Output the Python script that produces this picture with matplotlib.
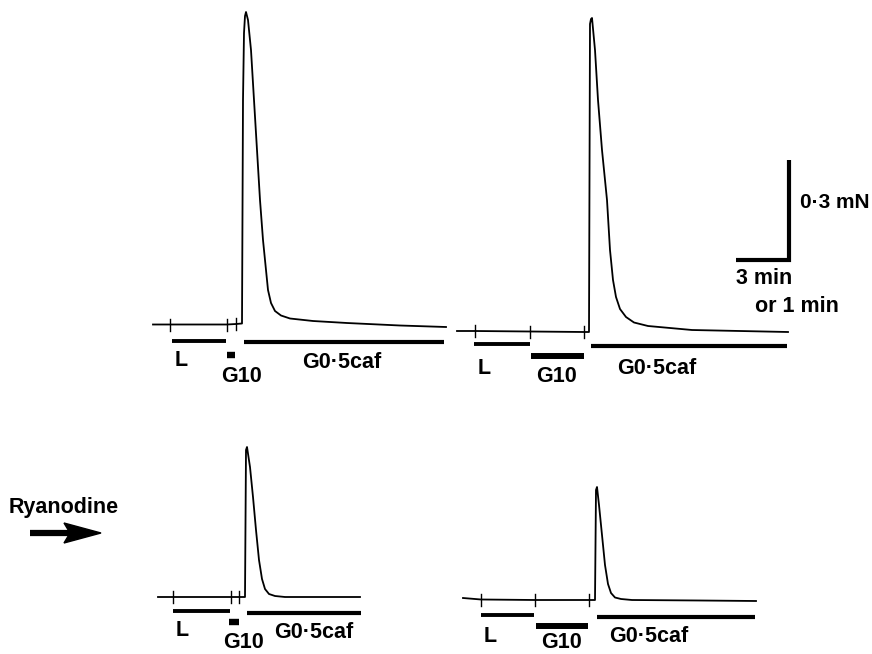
import matplotlib
matplotlib.use("Agg")
import matplotlib.pyplot as plt
from matplotlib.patches import Polygon

# Traces, in page pixels (x right, y down).
# Top left: short G10 exposure
TL_X = [153, 170, 227, 236, 242, 243, 244, 245, 246, 248, 251, 254, 257, 260,
        263, 266, 268, 271, 275, 281, 290, 313, 347, 400, 446]
TL_Y = [324.5, 324.5, 324.5, 324, 323.5, 100, 33, 16, 12, 20, 50, 100, 150, 200,
        240, 270, 290, 303, 311, 315.5, 318.5, 321, 323, 325.5, 327]
TL_TICKS = [170, 227, 236]
TL_BAR_L = (172, 226, 341)
TL_BAR_G10 = (227, 235, 355)
TL_BAR_CAF = (244, 444, 342)

# Top right: long G10 exposure
TR_X = [457, 475, 530, 584, 589, 590, 591, 592, 595, 598, 602, 607, 610, 613,
        616, 620, 626, 634, 648, 692, 740, 788]
TR_Y = [331, 331, 331.5, 332, 332, 24, 19, 18, 50, 100, 150, 200, 250, 280,
        297, 309, 317, 322.5, 326, 330, 331, 332]
TR_TICKS = [475, 530, 584]
TR_BAR_L = (474, 530, 344)
TR_BAR_G10 = (531, 584, 356)
TR_BAR_CAF = (591, 787, 346)

# Bottom left: after ryanodine, short G10
BL_X = [158, 173, 231, 239, 245, 246, 247, 250, 253, 256, 259, 262, 265, 269,
        275, 285, 320, 360]
BL_Y = [597, 597, 597, 597, 597, 450, 447, 467, 497, 530, 560, 579, 589, 594,
        596, 597, 597, 597]
BL_TICKS = [173, 231, 239]
BL_BAR_L = (173, 230, 611)
BL_BAR_G10 = (229, 239, 622)
BL_BAR_CAF = (247, 361, 613)

# Bottom right: after ryanodine, long G10
BR_X = [463, 481, 535, 589, 595, 596, 597, 599, 602, 605, 608, 611, 615, 621,
        632, 700, 756]
BR_Y = [598, 599.5, 600, 600, 600, 490, 487, 505, 535, 565, 584, 593, 597.5, 599,
        600, 600.5, 601]
BR_TICKS = [481, 535, 589]
BR_BAR_L = (481, 534, 615)
BR_BAR_G10 = (536, 588, 626)
BR_BAR_CAF = (597, 755, 617)

LABEL_L = "L"
LABEL_G10 = "G10"
LABEL_CAF = "G0\u00b75caf"

FONT = dict(family="Liberation Sans", fontsize=15.5, fontweight="bold",
            color="black")


def draw_panel(ax, xs, ys, ticks, bar_l, bar_g10, bar_caf, labels):
    ax.plot(xs, ys, color="black", lw=1.3, solid_joinstyle="round")
    for t in ticks:
        i = min(range(len(xs)), key=lambda k: abs(xs[k] - t))
        ax.plot([t, t], [ys[i] - 6, ys[i] + 6], color="black", lw=1.0)
    ax.plot(bar_l[:2], [bar_l[2]] * 2, color="black", lw=2.8, solid_capstyle="butt")
    g10_lw = 4.3 if bar_g10[1] - bar_g10[0] > 20 else 4.6
    ax.plot(bar_g10[:2], [bar_g10[2]] * 2, color="black", lw=g10_lw,
            solid_capstyle="butt")
    ax.plot(bar_caf[:2], [bar_caf[2]] * 2, color="black", lw=3.0,
            solid_capstyle="butt")
    for (x, y), s in zip(labels, [LABEL_L, LABEL_G10, LABEL_CAF]):
        ax.text(x, y, s, ha="center", va="center", **FONT)


fig = plt.figure(figsize=(8.72, 6.54), dpi=100)
ax = fig.add_axes([0, 0, 1, 1])
ax.set_xlim(0, 872)
ax.set_ylim(654, 0)
ax.axis("off")

draw_panel(ax, TL_X, TL_Y, TL_TICKS, TL_BAR_L, TL_BAR_G10, TL_BAR_CAF,
           [(181, 361), (241, 377), (342, 362)])
draw_panel(ax, TR_X, TR_Y, TR_TICKS, TR_BAR_L, TR_BAR_G10, TR_BAR_CAF,
           [(484, 368), (556, 377), (657, 369)])
draw_panel(ax, BL_X, BL_Y, BL_TICKS, BL_BAR_L, BL_BAR_G10, BL_BAR_CAF,
           [(182, 631), (243, 643), (314, 633)])
draw_panel(ax, BR_X, BR_Y, BR_TICKS, BR_BAR_L, BR_BAR_G10, BR_BAR_CAF,
           [(490, 637), (561, 643), (649, 637)])

# scale bar
ax.plot([736, 789, 789], [260, 260, 160], color="black", lw=3.0,
        solid_joinstyle="miter", solid_capstyle="butt")
ax.text(800, 202, "0\u00b73 mN", ha="left", va="center",
        **{**FONT, "fontsize": 15})
ax.text(736, 279, "3 min", ha="left", va="center", **FONT)
ax.text(755, 306, "or 1 min", ha="left", va="center", **FONT)

# ryanodine arrow
ax.text(9, 507, "Ryanodine", ha="left", va="center", **FONT)
ax.plot([30, 72], [533, 533], color="black", lw=4.5, solid_capstyle="butt")
ax.add_patch(Polygon([(64, 523), (101, 533), (64, 543), (70, 533)],
                     closed=True, color="black"))

fig.savefig("out.png", dpi=100, facecolor="white")
